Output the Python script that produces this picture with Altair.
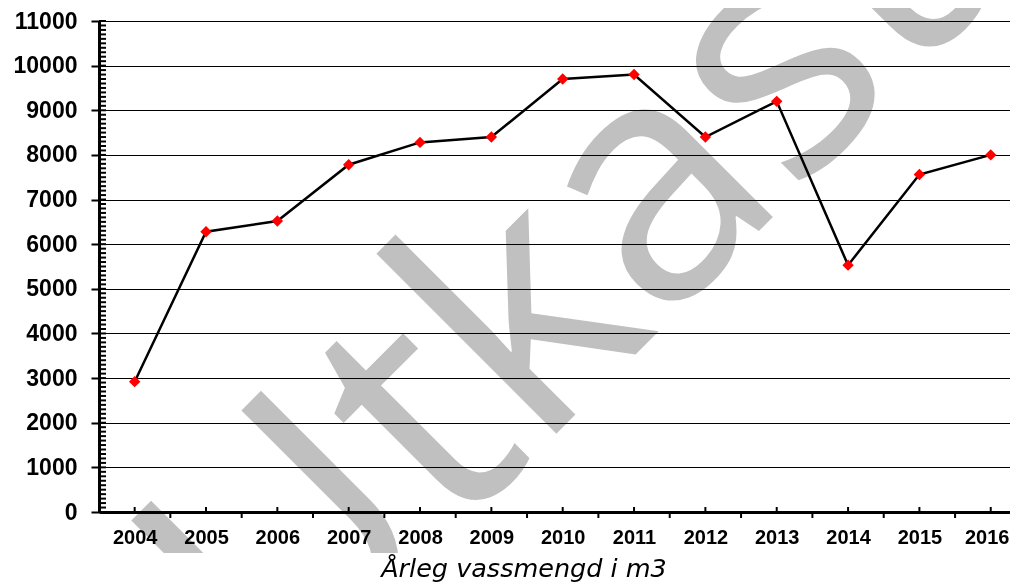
import altair as alt
import pandas as pd

years = [2004, 2005, 2006, 2007, 2008, 2009, 2010, 2011, 2012, 2013, 2014, 2015, 2016]
values = [2920, 6280, 6520, 7780, 8280, 8400, 9700, 9800, 8400, 9200, 5530, 7560, 8000]
y_major = list(range(0, 11001, 1000))
y_minor = list(range(0, 11001, 100))
x_bounds = [y + 0.5 for y in years[:-1]]
caption = "Årleg vassmengd i m3"
watermark = "Utkast"

W, H = 911, 491

df = pd.DataFrame({"year": years, "value": values})
minor_df = pd.DataFrame({"v": y_minor})
bound_df = pd.DataFrame({"b": x_bounds})

xs = alt.Scale(domain=[2003.5, 2016.27], nice=False, zero=False)
ys = alt.Scale(domain=[0, 11000], nice=False)

x_axis = alt.Axis(values=years, format="d", ticks=False, grid=False,
                  domainColor="black", domainWidth=3,
                  labelFont="Liberation Sans", labelFontWeight="bold",
                  labelFontSize=20, labelColor="black", labelPadding=15,
                  labelOffset=alt.expr(f"datum.value == {years[-1]} ? -4 : 0"),
                  title=None)
y_axis = alt.Axis(values=y_major, format="d", grid=True, gridColor="black",
                  gridWidth=1, gridOpacity=1, tickSize=8, tickWidth=2,
                  tickColor="black", domainColor="black", domainWidth=3,
                  labelFont="Liberation Sans", labelFontWeight="bold",
                  labelFontSize=23, labelColor="black", labelPadding=14,
                  title=None)

line = alt.Chart(df).mark_line(color="black", strokeWidth=2.5).encode(
    x=alt.X("year:Q", scale=xs, axis=x_axis),
    y=alt.Y("value:Q", scale=ys, axis=y_axis),
)
pts = alt.Chart(df).mark_point(shape="diamond", filled=True, size=130,
                               color="#ff0000", opacity=1).encode(
    x=alt.X("year:Q", scale=xs),
    y=alt.Y("value:Q", scale=ys),
)
minor = alt.Chart(minor_df).mark_rule(color="black", strokeWidth=2).encode(
    y=alt.Y("v:Q", scale=ys),
    x=alt.value(0), x2=alt.value(7),
)
center_ticks = alt.Chart(df).mark_rule(color="black", strokeWidth=2).encode(
    x=alt.X("year:Q", scale=xs),
    y=alt.value(H), y2=alt.value(H - 5),
)
bound_ticks = alt.Chart(bound_df).mark_rule(color="black", strokeWidth=2).encode(
    x=alt.X("b:Q", scale=xs),
    y=alt.value(H), y2=alt.value(H + 6),
)
wm = alt.Chart(pd.DataFrame({"t": [watermark]})).mark_text(
    font="Open Sans", fontSize=335, color="#c0c0c0", angle=315,
    align="left", baseline="alphabetic", blend="multiply",
).encode(text="t:N", x=alt.value(180), y=alt.value(690))
cover = alt.Chart(pd.DataFrame({"a": [0]})).mark_rect(color="white").encode(
    x=alt.value(-91), x2=alt.value(W + 10), y=alt.value(532), y2=alt.value(H + 80),
)
cap = alt.Chart(pd.DataFrame({"c": [caption]})).mark_text(
    font="DejaVu Sans", fontStyle="italic", fontSize=25.5, color="black",
    align="center", baseline="alphabetic",
).encode(text="c:N", x=alt.value(425), y=alt.value(556))

chart = alt.layer(minor, line, pts, center_ticks, bound_ticks, wm, cover, cap).properties(
    width=W, height=H,
    autosize=alt.AutoSizeParams(type="none"),
    padding={"left": 91, "top": 13, "right": 0, "bottom": 73},
    background="white",
).configure_view(stroke=None)

chart.save("out.html", embed_options={"renderer": "svg", "actions": False})
